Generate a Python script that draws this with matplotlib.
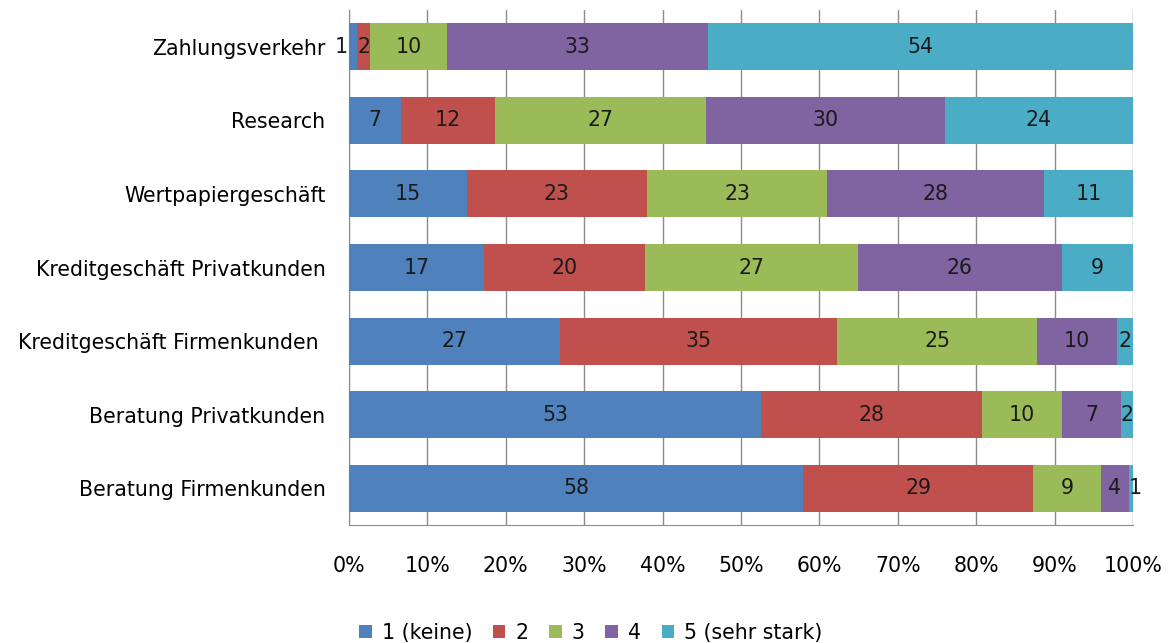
import matplotlib.pyplot as plt
import numpy as np

categories = ["Zahlungsverkehr", "Research", "Wertpapiergeschäft",
              "Kreditgeschäft Privatkunden", "Kreditgeschäft Firmenkunden ",
              "Beratung Privatkunden", "Beratung Firmenkunden"]
series_names = ["1 (keine)", "2", "3", "4", "5 (sehr stark)"]
shares = [
    [1.0, 1.7, 9.8, 33.3, 54.2],
    [6.6, 12.0, 26.9, 30.5, 24.0],
    [15.0, 23.0, 23.0, 27.7, 11.3],
    [17.2, 20.5, 27.2, 26.0, 9.1],
    [26.9, 35.4, 25.4, 10.2, 2.1],
    [52.6, 28.2, 10.1, 7.6, 1.5],
    [57.9, 29.4, 8.6, 3.6, 0.5],
]
# Beschriftungen wie im Original
labels = [
    [1, 2, 10, 33, 54],
    [7, 12, 27, 30, 24],
    [15, 23, 23, 28, 11],
    [17, 20, 27, 26, 9],
    [27, 35, 25, 10, 2],
    [53, 28, 10, 7, 2],
    [58, 29, 9, 4, 1],
]
colors = ["#4F81BD", "#C0504D", "#9BBB59", "#8064A2", "#4BACC6"]

fs = 14.8
data = np.array(shares, dtype=float)
data = data / data.sum(axis=1, keepdims=True) * 100

fig = plt.figure(figsize=(11.71, 6.43), dpi=100)
ax = fig.add_axes([349 / 1171, 1 - 525 / 643, (1133 - 349) / 1171, (525 - 10) / 643])

y = np.arange(len(categories))
left = np.zeros(len(categories))
for j, name in enumerate(series_names):
    ax.barh(y, data[:, j], left=left, height=0.64, color=colors[j],
            label=name, zorder=3)
    for i in range(len(categories)):
        w = data[i, j]
        if w < 1.2 and j == 0:
            x, ha = left[i] - 0.2, "right"
        elif w < 1.2:
            x, ha = left[i], "left"
        else:
            x, ha = left[i] + w / 2, "center"
        ax.text(x, y[i], str(labels[i][j]), ha=ha, va="center",
                fontsize=fs, color="#1a1a1a", zorder=4)
    left += data[:, j]

ax.set_ylim(len(categories) - 0.5, -0.5)
ax.set_xlim(0, 100)
ax.set_yticks(y)
ax.set_yticklabels(categories, fontsize=fs)
ax.set_xticks(np.arange(0, 101, 10))
ax.set_xticklabels([f"{v}%" for v in range(0, 101, 10)], fontsize=fs)
ax.tick_params(axis="y", length=0, pad=17)
ax.tick_params(axis="x", length=0, pad=22)
ax.xaxis.grid(True, color="#8c8c8c", linewidth=1, zorder=0)
for s in ["top", "right"]:
    ax.spines[s].set_visible(False)
ax.spines["left"].set_color("#8c8c8c")
ax.spines["bottom"].set_color("#8c8c8c")

ax.legend(loc="center", bbox_to_anchor=(591 / 1171, 1 - 633 / 643),
          bbox_transform=fig.transFigure, ncol=5, frameon=False,
          fontsize=fs, handlelength=0.6, handleheight=0.6,
          handletextpad=0.5, columnspacing=1.0)

fig.savefig("out.png", dpi=100)
